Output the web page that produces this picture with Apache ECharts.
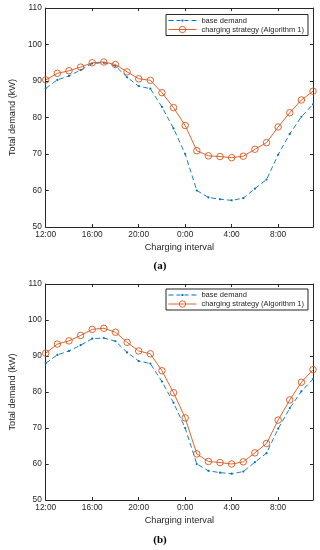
<!DOCTYPE html>
<html>
<head>
<meta charset="utf-8">
<script src="https://cdn.jsdelivr.net/npm/echarts@6/dist/echarts.min.js"></script>
<style>
html,body{margin:0;padding:0;background:#fff;}
#c{width:320px;height:550px;}
</style>
</head>
<body>
<div id="c"></div>
<script>
// ---- data ----
var hours = [0,1,2,3,4,5,6,7,8,9,10,11,12,13,14,15,16,17,18,19,20,21,22,23];
var xTickValues = [0,4,8,12,16,20];
var xTickLabels = ['12:00','16:00','20:00','0:00','4:00','8:00'];
var baseDemand = [88.0,90.3,91.4,93.0,94.8,95.0,94.1,91.0,88.6,87.9,82.9,77.0,70.0,60.0,58.1,57.6,57.3,57.9,60.5,63.0,69.8,75.5,80.2,83.6];
var chargingA = [90.3,92.1,92.8,93.8,95.0,95.2,94.5,92.5,90.6,90.2,86.8,82.7,77.8,70.9,69.5,69.3,69.0,69.4,71.3,73.1,77.4,81.3,84.8,87.2];
var chargingB = [90.8,93.3,94.2,95.7,97.4,97.7,96.6,93.8,91.4,90.6,85.9,79.8,72.8,62.8,60.7,60.4,60.0,60.6,63.1,65.7,72.2,77.8,82.7,86.2];
var nameBase = 'base demand';
var nameCharge = 'charging strategy (Algorithm 1)';

function pairs(xs, ys){ return xs.map(function(x,i){ return [x, ys[i]]; }); }

var FONT = 'Liberation Sans';
var AX = '#262626';
var BLUE = '#0072BD';
var ORANGE = '#D95319';
var CLEAR = 'rgba(255,255,255,0)';
// legend glyph for the dashed base-demand line with a small dot marker
var BASE_ICON = 'path://M0,0h0.05v0.05h-0.05z M27.95,7.95h0.05v0.05h-0.05z ' +
  'M0,3.5h5v1h-5z M8,3.5h4v1h-4z M13,3h2v2h-2z M16,3.5h4v1h-4z M23,3.5h5v1h-5z';

function xAx(grid, pos, show){
  return {
    type:'value', gridIndex:grid, position:pos, min:0, max:23, interval:4,
    axisLine:{show:true, onZero:false, lineStyle:{color:AX, width:1}},
    axisTick:{show:true, inside:true, length:3, lineStyle:{color:AX}},
    splitLine:{show:false},
    axisLabel:{show:show, color:AX, fontFamily:FONT, fontSize:8.3, margin:4,
      formatter:function(v){ var i = xTickValues.indexOf(v); return i>=0 ? xTickLabels[i] : ''; }},
    name: show ? 'Charging interval' : '', nameLocation:'middle', nameGap:16,
    nameTextStyle:{color:AX, fontFamily:FONT, fontSize:9.2}
  };
}
function yAx(grid, pos, show){
  return {
    type:'value', gridIndex:grid, position:pos, min:50, max:110, interval:10,
    axisLine:{show:true, onZero:false, lineStyle:{color:AX, width:1}},
    axisTick:{show:true, inside:true, length:3, lineStyle:{color:AX}},
    splitLine:{show:false},
    axisLabel:{show:show, color:AX, fontFamily:FONT, fontSize:8.3, margin:4},
    name: show ? 'Total demand (kW)' : '', nameLocation:'middle', nameGap:20,
    nameTextStyle:{color:AX, fontFamily:FONT, fontSize:9.2}
  };
}
function baseSeries(xi, yi){
  return {type:'line', name:nameBase, xAxisIndex:xi, yAxisIndex:yi, data:pairs(hours, baseDemand),
    symbol:'circle', symbolSize:2.2, showSymbol:true,
    lineStyle:{color:BLUE, width:0.9, type:[5,3]}, itemStyle:{color:BLUE, borderWidth:0}, z:2};
}
function chargeSeries(xi, yi, vals){
  return {type:'line', name:nameCharge, xAxisIndex:xi, yAxisIndex:yi, data:pairs(hours, vals),
    symbol:'circle', symbolSize:6.5, showSymbol:true,
    lineStyle:{color:ORANGE, width:0.9}, itemStyle:{color:CLEAR, borderColor:ORANGE, borderWidth:0.9}, z:3};
}
function legendAt(top){
  return {
    orient:'vertical', left:166, top:top,
    data:[
      {name:nameBase, icon:BASE_ICON, itemStyle:{color:BLUE, borderWidth:0}},
      {name:nameCharge, itemStyle:{color:CLEAR, borderColor:ORANGE, borderWidth:0.9}}
    ],
    backgroundColor:'#fff', borderColor:AX, borderWidth:1, borderRadius:0,
    padding:[2,4,2,2], itemWidth:28, itemHeight:8, itemGap:1,
    lineStyle:{width:0.9},
    textStyle:{color:AX, fontFamily:FONT, fontSize:7.5},
    selectedMode:false
  };
}

var chart = echarts.init(document.getElementById('c'), null, {renderer:'canvas'});
chart.setOption({
  animation:false,
  backgroundColor:'#fff',
  grid:[
    {left:37, top:8, width:276, height:219, show:false},
    {left:37, top:284, width:276, height:216, show:false}
  ],
  xAxis:[xAx(0,'bottom',true), xAx(0,'top',false), xAx(1,'bottom',true), xAx(1,'top',false)],
  yAxis:[yAx(0,'left',true), yAx(0,'right',false), yAx(1,'left',true), yAx(1,'right',false)],
  legend:[legendAt(14.5), legendAt(289)],
  series:[
    baseSeries(0,0), chargeSeries(0,0,chargingA),
    baseSeries(2,2), chargeSeries(2,2,chargingB)
  ],
  graphic:[
    {type:'text', left:'center', top:261, style:{text:'(a)', font:'bold 11px "Liberation Serif"', fill:'#000'}},
    {type:'text', left:'center', top:535, style:{text:'(b)', font:'bold 11px "Liberation Serif"', fill:'#000'}}
  ]
});
</script>
</body>
</html>
